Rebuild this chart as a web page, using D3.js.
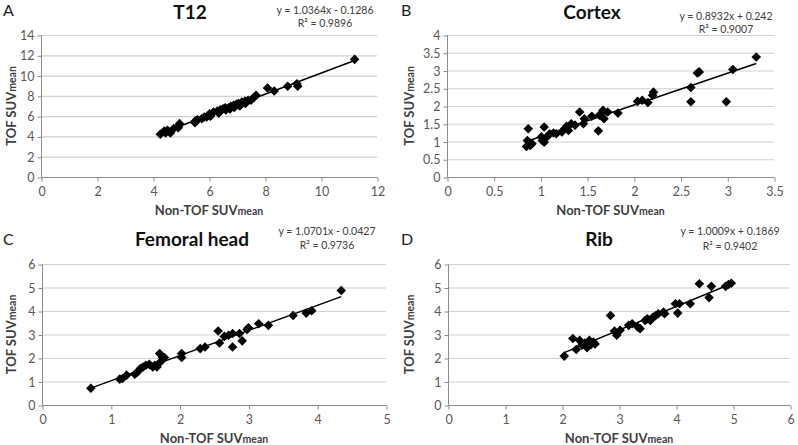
<!DOCTYPE html>
<html>
<head>
<meta charset="utf-8">
<script src="https://cdn.jsdelivr.net/npm/d3@7"></script>
<style>
  html, body { margin: 0; padding: 0; background: #fff; }
  svg { display: block; }
</style>
</head>
<body>
<svg id="chart" width="798" height="445"></svg>
<script>
// ---------------- DATA ----------------
const panelLabels = ["A", "B", "C", "D"];
const panelTitles = ["T12", "Cortex", "Femoral head", "Rib"];
const equations = ["y = 1.0364x - 0.1286", "y = 0.8932x + 0.242", "y = 1.0701x - 0.0427", "y = 1.0009x + 0.1869"];
const r2Labels = ["R² = 0.9896", "R² = 0.9007", "R² = 0.9736", "R² = 0.9402"];
const fitSlopes = [1.0364, 0.8932, 1.0701, 1.0009];
const fitIntercepts = [-0.1286, 0.242, -0.0427, 0.1869];
const xTitle = "Non-TOF SUV";
const yTitle = "TOF SUV";
const titleSub = "mean";

// T12
const t12X = [4.26, 4.40, 4.52, 4.62, 4.45, 4.74, 4.91, 4.95, 4.90, 5.51, 5.59, 5.50, 5.74, 5.83, 5.92, 6.02, 6.05, 6.16, 6.30, 6.35, 6.40, 6.50, 6.58, 6.60, 6.70, 6.75, 6.78, 6.88, 6.90, 6.97, 7.05, 7.10, 7.17, 7.29, 7.30, 7.40, 7.50, 7.59, 7.68, 8.09, 8.33, 8.81, 9.14, 9.17, 11.20];
const t12Y = [4.21, 4.54, 4.60, 4.34, 4.35, 4.77, 5.00, 5.26, 4.85, 5.52, 5.65, 5.35, 5.75, 5.91, 5.91, 6.24, 6.00, 6.40, 6.50, 6.30, 6.63, 6.73, 6.83, 6.60, 6.83, 6.70, 6.96, 7.06, 6.85, 7.16, 7.23, 7.00, 7.39, 7.49, 7.25, 7.56, 7.56, 7.82, 8.05, 8.78, 8.48, 8.94, 9.20, 8.94, 11.60];

// Cortex
const cortexX = [0.85, 0.86, 0.87, 0.89, 0.91, 1.01, 1.02, 1.04, 1.04, 1.07, 1.10, 1.14, 1.17, 1.23, 1.26, 1.28, 1.30, 1.33, 1.37, 1.42, 1.46, 1.47, 1.55, 1.62, 1.63, 1.67, 1.68, 1.72, 1.83, 2.04, 2.09, 2.15, 2.20, 2.21, 2.61, 2.61, 2.68, 2.70, 2.99, 3.06, 3.31];
const cortexY = [0.86, 1.03, 1.36, 0.89, 0.94, 1.13, 1.03, 1.41, 0.98, 1.13, 1.22, 1.24, 1.22, 1.27, 1.36, 1.43, 1.31, 1.50, 1.46, 1.83, 1.50, 1.64, 1.71, 1.30, 1.74, 1.88, 1.64, 1.83, 1.80, 2.13, 2.16, 2.10, 2.30, 2.39, 2.52, 2.12, 2.93, 2.96, 2.12, 3.03, 3.38];

// Femoral head
const femurX = [0.71, 1.13, 1.17, 1.23, 1.35, 1.39, 1.43, 1.47, 1.51, 1.56, 1.61, 1.64, 1.67, 1.71, 1.72, 1.75, 1.78, 2.03, 2.03, 2.30, 2.37, 2.56, 2.58, 2.65, 2.71, 2.77, 2.77, 2.87, 2.91, 2.98, 3.00, 3.15, 3.29, 3.65, 3.84, 3.92, 4.35];
const femurY = [0.71, 1.10, 1.13, 1.27, 1.31, 1.41, 1.55, 1.62, 1.69, 1.73, 1.62, 1.69, 1.62, 2.19, 1.83, 2.02, 2.02, 2.02, 2.19, 2.40, 2.47, 3.15, 2.64, 2.92, 2.97, 3.04, 2.47, 3.04, 2.73, 3.21, 3.29, 3.46, 3.39, 3.81, 3.91, 4.01, 4.87];

// Rib
const ribX = [2.04, 2.19, 2.25, 2.31, 2.35, 2.40, 2.44, 2.48, 2.51, 2.55, 2.58, 2.85, 2.92, 2.96, 3.02, 3.17, 3.23, 3.33, 3.37, 3.46, 3.50, 3.55, 3.60, 3.64, 3.69, 3.78, 3.80, 3.99, 4.03, 4.06, 4.25, 4.41, 4.58, 4.62, 4.87, 4.92, 4.97];
const ribY = [2.08, 2.83, 2.36, 2.75, 2.54, 2.64, 2.44, 2.75, 2.58, 2.68, 2.60, 3.81, 3.15, 2.97, 3.18, 3.39, 3.46, 3.32, 3.25, 3.60, 3.67, 3.60, 3.74, 3.80, 3.88, 3.95, 3.88, 4.31, 3.91, 4.31, 4.31, 5.16, 4.57, 5.05, 5.05, 5.13, 5.18];

// Axis ticks
const t12XTicks = [0, 2, 4, 6, 8, 10, 12];
const t12YTicks = [0, 2, 4, 6, 8, 10, 12, 14];
const cortexXTicks = [0, 0.5, 1, 1.5, 2, 2.5, 3, 3.5];
const cortexYTicks = [0, 0.5, 1, 1.5, 2, 2.5, 3, 3.5, 4];
const femurXTicks = [0, 1, 2, 3, 4, 5];
const femurYTicks = [0, 1, 2, 3, 4, 5, 6];
const ribXTicks = [0, 1, 2, 3, 4, 5, 6];
const ribYTicks = [0, 1, 2, 3, 4, 5, 6];

// ---------------- LAYOUT ----------------
const layouts = [
  { x0: 41, x1: 377, y0: 177, y1: 35, ox: 0, oy: 0, titleX: 190, titleY: 19, eqX: 325, eqY: 14, r2Y: 27, labX: 3, labY: 16 },
  { x0: 447, x1: 774, y0: 177, y1: 35, ox: 398, oy: 0, titleX: 592, titleY: 19, eqX: 726, eqY: 20, r2Y: 33, labX: 401, labY: 16 },
  { x0: 42, x1: 386, y0: 405, y1: 264, ox: 0, oy: 222, titleX: 192, titleY: 246, eqX: 327, eqY: 235, r2Y: 249, labX: 3, labY: 245 },
  { x0: 448, x1: 790, y0: 405, y1: 264, ox: 398, oy: 222, titleX: 599, titleY: 246, eqX: 730, eqY: 235, r2Y: 250, labX: 401, labY: 245 }
];

const panelX = [t12X, cortexX, femurX, ribX];
const panelY = [t12Y, cortexY, femurY, ribY];
const panelXTicks = [t12XTicks, cortexXTicks, femurXTicks, ribXTicks];
const panelYTicks = [t12YTicks, cortexYTicks, femurYTicks, ribYTicks];

const FONT = "Lato, 'Open Sans', 'Liberation Sans', sans-serif";
const svg = d3.select("#chart");

layouts.forEach((L, i) => {
  const xs = panelX[i], ys = panelY[i];
  const xt = panelXTicks[i], yt = panelYTicks[i];
  const x = d3.scaleLinear().domain([xt[0], xt[xt.length - 1]]).range([L.x0, L.x1]);
  const y = d3.scaleLinear().domain([yt[0], yt[yt.length - 1]]).range([L.y0, L.y1]);
  const g = svg.append("g");

  // gridlines
  g.selectAll("line.grid").data(yt.filter(v => v !== yt[0])).enter().append("line")
    .attr("x1", L.x0).attr("x2", L.x1)
    .attr("y1", d => y(d) + 0.5).attr("y2", d => y(d) + 0.5)
    .attr("stroke", "#d0d0d0").attr("stroke-width", 1.2);

  // y axis
  const yAxis = d3.axisLeft(y).tickValues(yt).tickSize(4).tickPadding(3).tickFormat(d3.format("~g"));
  const ya = g.append("g").attr("transform", `translate(${L.x0 + 0.5},0.5)`).call(yAxis);
  // x axis
  const xAxis = d3.axisBottom(x).tickValues(xt).tickSize(4).tickPadding(6).tickFormat(d3.format("~g"));
  const xa = g.append("g").attr("transform", `translate(0.5,${L.y0 + 0.5})`).call(xAxis);
  [ya, xa].forEach(a => {
    a.select(".domain").attr("stroke", "#8c8c8c").attr("stroke-width", 1);
    a.selectAll(".tick line").attr("stroke", "#8c8c8c");
    a.selectAll(".tick text").attr("fill", "#595959").style("font-family", FONT).style("font-size", "12.5px");
  });
  xa.select(".domain").attr("d", `M${L.x0},0H${L.x1}`);
  ya.select(".domain").attr("d", `M0,${L.y0}V${L.y1}`);

  // trend line
  const xmin = d3.min(xs), xmax = d3.max(xs);
  const a = fitSlopes[i], b = fitIntercepts[i];
  g.append("line")
    .attr("x1", x(xmin)).attr("y1", y(a * xmin + b))
    .attr("x2", x(xmax)).attr("y2", y(a * xmax + b))
    .attr("stroke", "#000").attr("stroke-width", 1.5);

  // points (diamonds)
  const pts = xs.map((v, k) => [v, ys[k]]);
  const r = 4.8;
  g.selectAll("path.pt").data(pts).enter().append("path")
    .attr("d", `M0,${-r}L${r},0L0,${r}L${-r},0Z`)
    .attr("transform", d => `translate(${x(d[0])},${y(d[1])})`)
    .attr("fill", "#000");

  // titles
  g.append("text").attr("x", L.titleX).attr("y", L.titleY).attr("text-anchor", "middle")
    .style("font-family", FONT).style("font-weight", "bold").style("font-size", "19px").attr("fill", "#111")
    .text(panelTitles[i]);
  g.append("text").attr("x", L.labX).attr("y", L.labY)
    .style("font-family", FONT).style("font-size", "16px").attr("fill", "#222")
    .text(panelLabels[i]);
  g.append("text").attr("x", L.eqX).attr("y", L.eqY).attr("text-anchor", "middle")
    .style("font-family", FONT).style("font-size", "10.5px").attr("fill", "#404040")
    .text(equations[i]);
  g.append("text").attr("x", L.eqX).attr("y", L.r2Y).attr("text-anchor", "middle")
    .style("font-family", FONT).style("font-size", "10.5px").attr("fill", "#404040")
    .text(r2Labels[i]);

  // x axis title
  const xtT = g.append("text").attr("x", (L.x0 + L.x1) / 2).attr("y", L.y0 + 38).attr("text-anchor", "middle")
    .style("font-family", FONT).style("font-weight", "bold").style("font-size", "13px").attr("fill", "#404040");
  xtT.append("tspan").text(xTitle);
  xtT.append("tspan").style("font-size", "10.5px").text(titleSub);

  // y axis title
  const ytT = g.append("text")
    .attr("transform", `translate(${L.ox + 16},${(L.y0 + L.y1) / 2}) rotate(-90)`)
    .attr("text-anchor", "middle")
    .style("font-family", FONT).style("font-weight", "bold").style("font-size", "13px").attr("fill", "#404040");
  ytT.append("tspan").text(yTitle);
  ytT.append("tspan").style("font-size", "10.5px").text(titleSub);
});
</script>
</body>
</html>
